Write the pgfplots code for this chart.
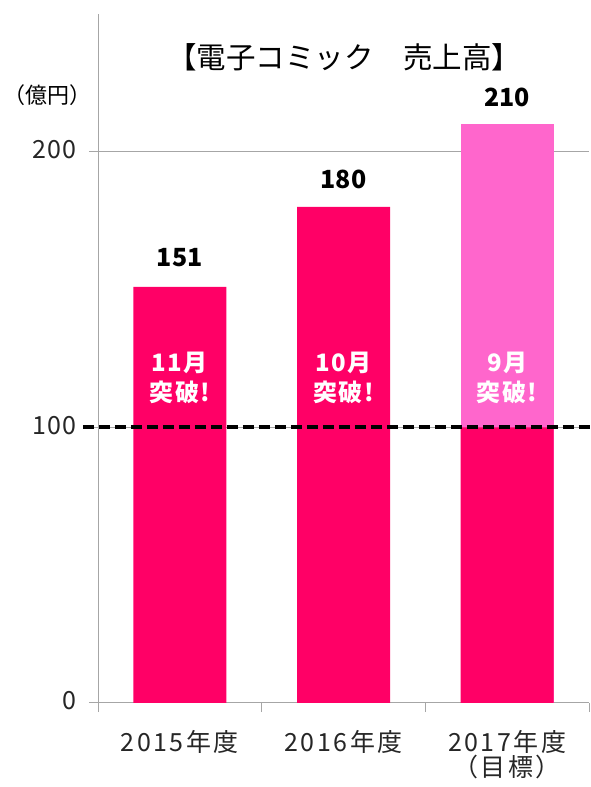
\documentclass[border=0pt]{standalone}
\usepackage{fontspec}
\setmainfont{Noto Sans CJK JP}
\usepackage{pgfplots}
\pgfplotsset{compat=1.18}
\definecolor{deep}{HTML}{FF0066}
\definecolor{light}{HTML}{FF66CC}
\definecolor{axgray}{HTML}{A6A6A6}
\begin{document}
\begin{tikzpicture}[x=1pt,y=1pt]
\useasboundingbox (0,0) rectangle (591,787);
\begin{axis}[
  at={(98pt,84pt)}, anchor=south west,
  scale only axis, width=491pt, height=689pt,
  xmin=-0.5, xmax=2.5, ymin=0, ymax=250,
  axis x line=bottom, axis y line=left,
  axis line style={draw=axgray, line width=1pt, -},
  ytick={0,100,200},
  yticklabel style={font=\fontsize{25}{25}\selectfont\addfontfeature{LetterSpace=4}, xshift=-9pt, yshift=2pt, text=black!85},
  ymajorgrids, grid style={axgray, line width=1pt},
  xtick={-0.5,0.5,1.5,2.5}, xticklabels={},
  extra x ticks={0,1,2},
  extra x tick labels={2015年度, 2016年度, {2017年度\\（目標）}},
  extra x tick style={major tick length=0pt, grid=none,
    xticklabel style={font=\fontsize{25}{23}\selectfont\addfontfeature{LetterSpace=10}, align=center, anchor=north, yshift=-24pt, text=black!85}},
  major tick length=9pt, tick align=outside,
  tick style={draw=axgray, line width=1pt},
  clip=false,
  /pgf/number format/assume math mode=true,
]
\addplot[ybar, bar width=93pt, bar shift=0pt, fill=light, draw=none] coordinates {(2,210)};
\addplot[ybar, bar width=93pt, bar shift=0pt, fill=deep, draw=none] coordinates {(0,151) (1,180) (2,100)};
\addplot[black, line width=3.8pt, dash pattern=on 11pt off 5pt] coordinates {(-0.592,100) (2.513,100)};
\node[font=\bfseries\fontsize{25}{25}\selectfont] at (axis cs:0,161.5) {151};
\node[font=\bfseries\fontsize{25}{25}\selectfont] at (axis cs:1,190) {180};
\node[font=\bfseries\fontsize{25}{25}\selectfont] at (axis cs:2,219.6) {210};
\foreach \x/\m in {0/11月,1/10月,2/9月}{
  \edef\temp{\noexpand\node[font=\noexpand\bfseries\noexpand\fontsize{24}{30}\noexpand\selectfont\noexpand\addfontfeature{LetterSpace=6}, text=white, align=center] at (axis cs:\x,118) {\m\noexpand\\突破!};}
  \temp
}
\end{axis}
\node[font=\fontsize{29.5}{29.5}\selectfont] at (344,730) {【電子コミック　売上高】};
\node[font=\fontsize{22}{22}\selectfont] at (47,692) {（億円）};
\end{tikzpicture}
\end{document}
